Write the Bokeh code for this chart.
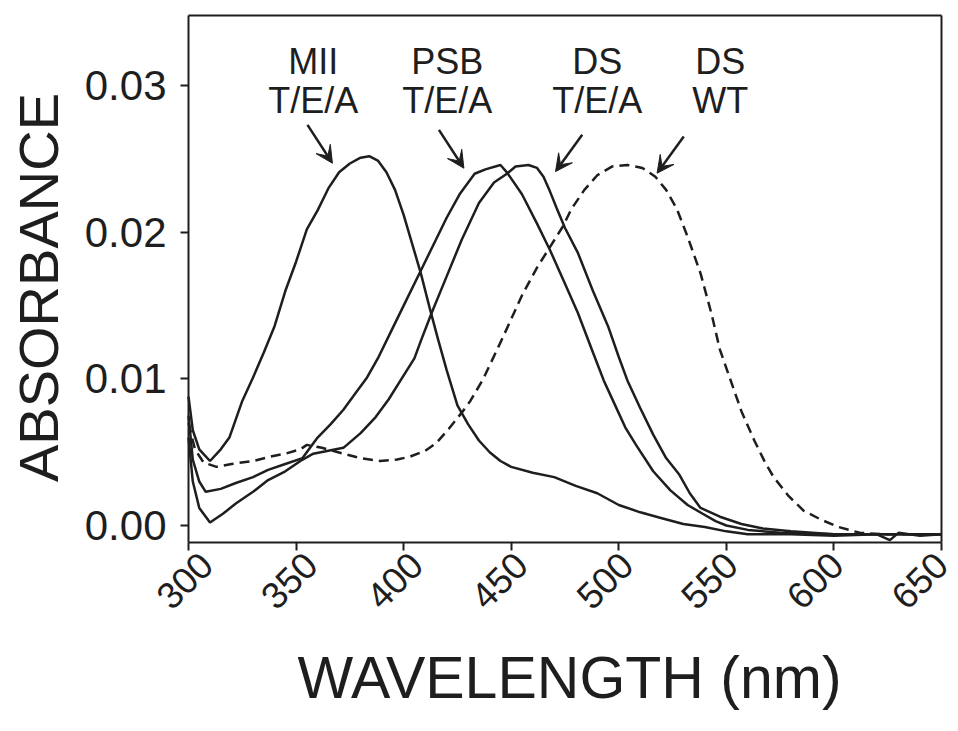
import numpy as np
from bokeh.plotting import figure
from bokeh.models import (FixedTicker, NumeralTickFormatter, Arrow, VeeHead, ColumnDataSource, Range1d,
                          LinearAxis)
from bokeh.core.properties import value
from bokeh.embed import file_html
from bokeh.resources import INLINE

# ---- data ----
mii_nm = [300, 302, 305, 310, 315, 319, 325, 330, 335, 340, 345, 350, 355, 360, 363, 365, 370, 375, 380, 384,
          388, 392, 396, 400, 404, 408, 412, 416, 420, 425, 430, 435, 440, 445, 450, 460, 470, 480, 490, 500,
          510, 520, 530, 540, 550, 560, 580, 600, 620, 626, 630, 640, 650]
mii_abs = [0.0088, 0.0065, 0.0052, 0.0044, 0.0052, 0.0060, 0.0085, 0.0101, 0.0118, 0.0136, 0.0160, 0.0180, 0.0202,
           0.0215, 0.0224, 0.0230, 0.0241, 0.0247, 0.0251, 0.0252, 0.0249, 0.0241, 0.0229, 0.0212, 0.0192, 0.0172,
           0.0149, 0.0127, 0.0106, 0.0082, 0.0069, 0.0058, 0.0050, 0.0044, 0.0040, 0.0036, 0.0033, 0.0027, 0.0022,
           0.0014, 0.0009, 0.0005, 0.0001, -0.0001, -0.0004, -0.0006, -0.0006, -0.0007, -0.0006, -0.0010,
           -0.0005, -0.0007, -0.0006]

psb_nm = [300, 302, 305, 308, 315, 322, 330, 337, 345, 353, 360, 366, 372, 377, 383, 388, 395, 400, 408, 415,
          420, 426, 433, 438, 445, 448, 455, 462, 468, 475, 481, 488, 493, 498, 503, 508, 516, 524, 532, 539,
          545, 550, 560, 575, 600, 650]
psb_abs = [0.0075, 0.0045, 0.0030, 0.0023, 0.0025, 0.0029, 0.0033, 0.0038, 0.0042, 0.0046, 0.0060, 0.0069, 0.0079,
           0.0089, 0.0101, 0.0114, 0.0135, 0.0150, 0.0174, 0.0195, 0.0210, 0.0226, 0.0240, 0.0243, 0.0246, 0.0241,
           0.0226, 0.0206, 0.0188, 0.0165, 0.0145, 0.0118, 0.0099, 0.0083, 0.0067, 0.0055, 0.0037, 0.0024, 0.0014,
           0.0008, 0.0003, 0.0000, -0.0003, -0.0005, -0.0006, -0.0006]

dst_nm = [300, 302, 305, 310, 316, 322, 330, 337, 345, 352, 358, 365, 372, 380, 387, 393, 399, 405, 408, 413,
          420, 427, 435, 442, 448, 452, 458, 462, 465, 468, 471, 475, 481, 488, 495, 500, 504, 510, 516, 522, 528,
          533, 538, 547, 557, 567, 580, 600, 650]
dst_abs = [0.0060, 0.0030, 0.0012, 0.0002, 0.0008, 0.0015, 0.0023, 0.0031, 0.0037, 0.0044, 0.0049, 0.0051, 0.0053,
           0.0063, 0.0074, 0.0086, 0.0100, 0.0114, 0.0126, 0.0145, 0.0170, 0.0195, 0.0220, 0.0234, 0.0240, 0.0245,
           0.0246, 0.0244, 0.0238, 0.0228, 0.0217, 0.0203, 0.0186, 0.0160, 0.0136, 0.0115, 0.0099, 0.0080, 0.0062,
           0.0046, 0.0035, 0.0022, 0.0012, 0.0006, 0.0001, -0.0002, -0.0004, -0.0006, -0.0006]

wt_nm = [300, 303, 307, 313, 320, 330, 338, 345, 352, 355, 362, 372, 380, 389, 397, 403, 410, 415, 421, 427,
         431, 437, 446, 455, 462, 468, 474, 478, 484, 490, 497, 504, 511, 517, 522, 527, 532, 538, 543, 547,
         552, 557, 563, 568, 572, 579, 586, 594, 602, 612, 625, 650]
wt_abs = [0.0070, 0.0052, 0.0043, 0.0040, 0.0042, 0.0044, 0.0047, 0.0049, 0.0052, 0.0055, 0.0053, 0.0049, 0.0046,
          0.0044, 0.0045, 0.0047, 0.0051, 0.0056, 0.0066, 0.0077, 0.0085, 0.0100, 0.0128, 0.0157, 0.0176, 0.0190,
          0.0204, 0.0216, 0.0229, 0.0239, 0.0245, 0.0246, 0.0244, 0.0238, 0.0229, 0.0216, 0.0197, 0.0172, 0.0145,
          0.0120, 0.0099, 0.0078, 0.0058, 0.0043, 0.0033, 0.0020, 0.0010, 0.0004, -0.0001, -0.0005, -0.0006, -0.0006]

x_ticks = [300, 350, 400, 450, 500, 550, 600, 650]
x_tick_labels = ["300", "350", "400", "450", "500", "550", "600", "650"]
y_ticks = [0.00, 0.01, 0.02, 0.03]
x_title = "WAVELENGTH (nm)"
y_title = "ABSORBANCE"
X_MIN, X_MAX = 300, 650
Y_MIN, Y_MAX = -0.00116, 0.0348

label_x = [358.0, 420.3, 490.0, 547.2]
label_top = ["MII", "PSB", "DS", "DS"]
label_bottom = ["T/E/A", "T/E/A", "T/E/A", "WT"]
label_y_top = 0.03165
label_y_bottom = 0.0290

arrow_x_start = [355.3, 416.4, 483.0, 530.2]
arrow_y_start = [0.02734, 0.0270, 0.02666, 0.02654]
arrow_x_end = [366.9, 428.0, 470.6, 517.8]
arrow_y_end = [0.02472, 0.02438, 0.02415, 0.02404]

FONT = "Liberation Sans"
INK = "#1e1e1e"

# ---- layout: the plot box occupies px 188..941 x 15..542 of a 958x731 canvas ----
W, H = 958, 731
BOX_L, BOX_R, BOX_T, BOX_B = 188, 941, 15, 542
KX = (BOX_R - BOX_L) / (X_MAX - X_MIN)
KY = (BOX_B - BOX_T) / (Y_MAX - Y_MIN)
XR0 = X_MIN - BOX_L / KX
XR1 = XR0 + W / KX
YR1 = Y_MAX + BOX_T / KY
YR0 = YR1 - H / KY
# horizontal pixel nudge of each rotated tick label (layout only)
TICK_LABEL_NUDGE = [-4, -7, -9, -12, -14, -17, -19, -22]


def sx(px):
    return XR0 + px / KX


def sy(py):
    return YR1 - py / KY


p = figure(width=W, height=H, output_backend="svg", toolbar_location=None,
           x_range=Range1d(XR0, XR1), y_range=Range1d(YR0, YR1),
           x_axis_type=None, y_axis_type=None,
           min_border=0, min_border_left=0, min_border_right=0, min_border_top=0, min_border_bottom=0)
p.background_fill_color = "white"
p.border_fill_color = "white"
p.outline_line_color = None
p.grid.visible = False


def style_axis(ax):
    ax.axis_line_color = INK
    ax.axis_line_width = 2
    ax.major_tick_line_color = INK
    ax.major_tick_line_width = 2
    ax.major_tick_out = 8
    ax.major_tick_in = 0
    ax.minor_tick_out = 0
    ax.minor_tick_in = 0
    ax.major_label_text_font = FONT
    ax.major_label_text_color = INK


# bottom axis (ticks only; labels drawn rotated below)
xb = LinearAxis(fixed_location=Y_MIN, bounds=(X_MIN, X_MAX), ticker=FixedTicker(ticks=x_ticks),
                major_label_overrides={t: "" for t in x_ticks})
style_axis(xb)
xb.major_label_text_font_size = "0px"
p.add_layout(xb, "below")

# left axis
yl = LinearAxis(fixed_location=X_MIN, bounds=(Y_MIN, Y_MAX), ticker=FixedTicker(ticks=y_ticks),
                formatter=NumeralTickFormatter(format="0.00"))
style_axis(yl)
yl.major_label_text_font_size = "42px"
yl.major_label_standoff = 14
p.add_layout(yl, "left")

# top and right box lines
xt = LinearAxis(fixed_location=Y_MAX, bounds=(X_MIN, X_MAX), ticker=FixedTicker(ticks=[]))
style_axis(xt)
xt.major_label_text_font_size = "0px"
p.add_layout(xt, "above")
yr = LinearAxis(fixed_location=X_MAX, bounds=(Y_MIN, Y_MAX), ticker=FixedTicker(ticks=[]))
style_axis(yr)
yr.major_label_text_font_size = "0px"
p.add_layout(yr, "right")

for xs, ys, dash in [(mii_nm, mii_abs, "solid"), (psb_nm, psb_abs, "solid"),
                     (dst_nm, dst_abs, "solid"), (wt_nm, wt_abs, "10 6")]:
    p.line(xs, ys, line_color=INK, line_width=2.5, line_dash=dash)

# rotated x tick labels, centred below the ticks
tick_src = ColumnDataSource(dict(x=x_ticks, y=[sy(580)] * len(x_ticks), text=x_tick_labels,
                                 dx=TICK_LABEL_NUDGE))
p.text(x="x", y="y", text="text", source=tick_src, angle=np.pi / 4, x_offset="dx",
       text_align="center", text_baseline="middle",
       text_font=value(FONT), text_font_size="37px", text_color=INK)

# axis titles
p.text(x=[sx(569)], y=[sy(677)], text=[x_title], text_align="center", text_baseline="middle",
       text_font=value(FONT), text_font_size="59px", text_color=INK)
p.text(x=[sx(38)], y=[sy(287)], text=[y_title], angle=np.pi / 2, text_align="center",
       text_baseline="middle", text_font=value(FONT), text_font_size="56px", text_color=INK)

# curve labels and arrows
src = ColumnDataSource(dict(x=label_x, top=label_top, bottom=label_bottom,
                            yt=[label_y_top] * 4, yb=[label_y_bottom] * 4))
p.text(x="x", y="yt", text="top", source=src, text_font=value(FONT), text_font_size="36px",
       text_align="center", text_baseline="middle", text_color=INK)
p.text(x="x", y="yb", text="bottom", source=src, text_font=value(FONT), text_font_size="36px",
       text_align="center", text_baseline="middle", text_color=INK)

for xs, ys, xe, ye in zip(arrow_x_start, arrow_y_start, arrow_x_end, arrow_y_end):
    p.add_layout(Arrow(x_start=xs, y_start=ys, x_end=xe, y_end=ye, line_color=INK, line_width=2.5,
                       end=VeeHead(size=17, fill_color=INK, line_color=INK, line_width=1)))

open("out.html", "w").write(file_html(p, INLINE))
